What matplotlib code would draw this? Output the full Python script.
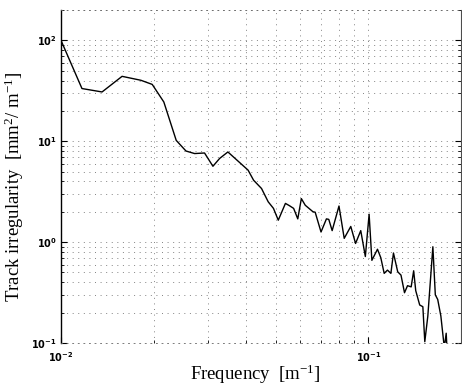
import matplotlib
matplotlib.use("Agg")
import matplotlib.pyplot as plt
from matplotlib.ticker import LogLocator, NullFormatter

plt.rcParams["mathtext.fontset"] = "custom"
plt.rcParams["mathtext.rm"] = "Liberation Serif"
plt.rcParams["mathtext.it"] = "Liberation Serif:italic"
plt.rcParams["mathtext.bf"] = "DejaVu Sans:bold"

# Track irregularity power spectral density
frequency = [0.0100, 0.0117, 0.0136, 0.0158, 0.0182, 0.0198, 0.0216, 0.0237,
             0.0255, 0.0272, 0.0293, 0.0312, 0.0328, 0.0349, 0.0406, 0.0423,
             0.0449, 0.0472, 0.0491, 0.0509, 0.0537, 0.0553, 0.0571, 0.0589,
             0.0605, 0.0623, 0.0660, 0.0671, 0.0701, 0.0730, 0.0743, 0.0762,
             0.0802, 0.0834, 0.0876, 0.0908, 0.0944, 0.0977, 0.1005, 0.1026,
             0.1070, 0.1097, 0.1125, 0.1153, 0.1183, 0.1206, 0.1245, 0.1276,
             0.1310, 0.1340, 0.1377, 0.1403, 0.1425, 0.1468, 0.1503, 0.1525,
             0.1560, 0.1620, 0.1650, 0.1680, 0.1720, 0.1765, 0.1790, 0.1800]
psd = [100.0, 33.3, 30.8, 44.0, 40.2, 36.6, 24.5, 10.2,
       8.0, 7.55, 7.65, 5.65, 6.75, 7.83, 5.17, 4.11,
       3.40, 2.51, 2.16, 1.65, 2.42, 2.30, 2.16, 1.70,
       2.70, 2.32, 2.00, 1.98, 1.26, 1.70, 1.68, 1.30,
       2.28, 1.09, 1.43, 0.97, 1.30, 0.72, 1.89, 0.66,
       0.85, 0.70, 0.49, 0.528, 0.49, 0.78, 0.508, 0.471,
       0.315, 0.37, 0.36, 0.52, 0.33, 0.238, 0.229, 0.103,
       0.185, 0.90, 0.30, 0.27, 0.185, 0.09, 0.125, 0.09]

x_limits = (0.01, 0.2)
y_limits = (0.1, 200)
x_ticks = [0.01, 0.1]
x_ticklabels = [r"$\mathbf{10^{-2}}$", r"$\mathbf{10^{-1}}$"]
y_ticks = [0.1, 1, 10, 100]
y_ticklabels = [r"$\mathbf{10^{-1}}$", r"$\mathbf{10^{0}}$",
                r"$\mathbf{10^{1}}$", r"$\mathbf{10^{2}}$"]

fig = plt.figure(figsize=(4.62, 3.87), dpi=100)
ax = fig.add_axes([61 / 462, 1 - 343 / 387, 400 / 462, 333 / 387])

ax.loglog(frequency, psd, color="black", linewidth=1.0)

ax.set_xlim(*x_limits)
ax.set_ylim(*y_limits)

ax.set_xticks(x_ticks)
ax.set_xticklabels(x_ticklabels)
ax.set_yticks(y_ticks)
ax.set_yticklabels(y_ticklabels)
ax.xaxis.set_minor_locator(LogLocator(base=10, subs=range(2, 10)))
ax.yaxis.set_minor_locator(LogLocator(base=10, subs=range(2, 10)))
ax.xaxis.set_minor_formatter(NullFormatter())
ax.yaxis.set_minor_formatter(NullFormatter())

ax.tick_params(axis="both", which="both", direction="in", colors="black",
               labelsize=7, right=True, top=False)
ax.tick_params(axis="both", which="major", length=4, width=0.8, pad=3)
ax.tick_params(axis="both", which="minor", length=2.5, width=0.6)
ax.tick_params(axis="x", which="major", pad=5)

ax.grid(True, which="both", color="0.45", linewidth=0.6,
        linestyle=(0, (1.2, 5.5)))

for side in ("top", "bottom"):
    ax.spines[side].set_linestyle((0, (1.2, 5.5)))
    ax.spines[side].set_linewidth(0.6)
    ax.spines[side].set_color("0.4")
ax.spines["left"].set_linewidth(1.0)
ax.spines["right"].set_linewidth(0.8)
ax.spines["right"].set_color("0.3")

label_font = {"family": "Liberation Serif", "size": 13.5}
ax.set_xlabel(r"Frequency  [m$^{\mathrm{-1}}$]", fontdict=label_font)
ax.set_ylabel(r"Track irregularity  [mm$^{\mathrm{2}}$/ m$^{\mathrm{-1}}$]",
              fontdict=label_font)
ax.xaxis.set_label_coords(0.485, -0.06)
ax.yaxis.set_label_coords(-0.088, 0.47)

fig.savefig("out.png", dpi=100)
